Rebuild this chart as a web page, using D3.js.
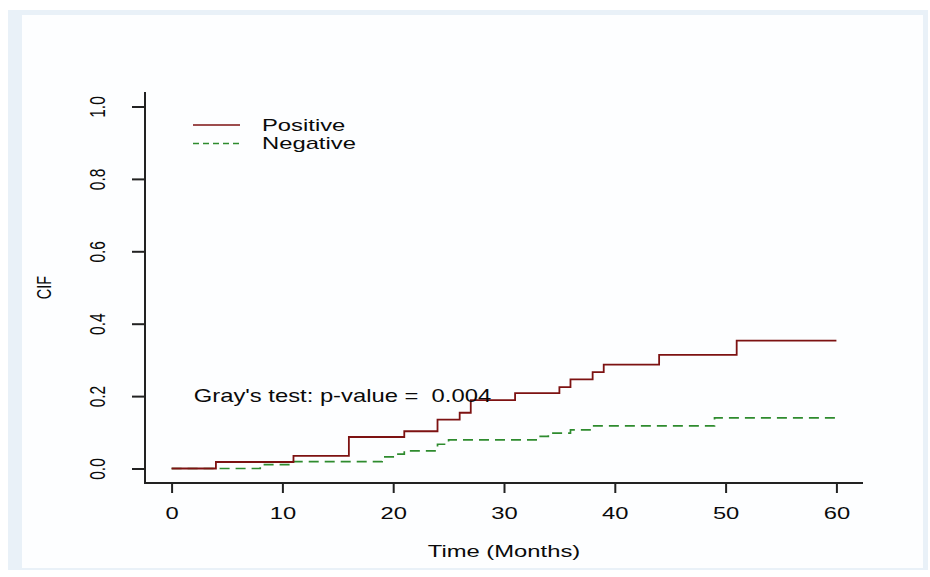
<!DOCTYPE html>
<html>
<head>
<meta charset="utf-8">
<script src="https://cdn.jsdelivr.net/npm/d3@7"></script>
<style>
  body { margin: 0; background: #fff; }
  text { font-family: "Liberation Sans", Arial, sans-serif; fill: #0a0a0a; }
</style>
</head>
<body>
<div id="cifChart"></div>
<script>
// step points (time in months, cumulative incidence)
const posTime = [0, 4, 11, 16, 21, 24, 26, 27, 31, 35, 36, 38, 39, 44, 51, 60];
const posCIF  = [0, 0.018, 0.035, 0.087, 0.103, 0.135, 0.154, 0.189, 0.208, 0.225, 0.246, 0.266, 0.287, 0.314, 0.353, 0.353];
const negTime = [0, 8, 11, 19, 20, 21, 24, 25, 33, 34, 36, 38, 49, 60];
const negCIF  = [0, 0.011, 0.019, 0.032, 0.040, 0.049, 0.067, 0.079, 0.089, 0.098, 0.107, 0.118, 0.140, 0.140];

const seriesNames = ["Positive", "Negative"];
const xTicks = [0, 10, 20, 30, 40, 50, 60];
const yTicks = [0, 0.2, 0.4, 0.6, 0.8, 1.0];
const xTitle = "Time (Months)";
const yTitle = "CIF";
const testLabel = "Gray's test: p-value =  0.004";

// set the dimensions of the page and the plot region
var width = 930, height = 577;
var plot = {left: 145, right: 863, top: 92, bottom: 483};
var sx = 1.40; // picture is stretched sideways, so is the text

var svg = d3.select("#cifChart")
    .append("svg")
        .attr("width", width)
        .attr("height", height);

// light blue frame round the picture
svg.append("rect")
    .attr("x", 8).attr("y", 10).attr("width", 920).attr("height", 560)
    .attr("fill", "#e9f1f8");
svg.append("rect")
    .attr("x", 22).attr("y", 15).attr("width", 901).attr("height", 553)
    .attr("fill", "#fdfeff");

// R style 4% padding on both axes
var x = d3.scaleLinear()
    .domain([-2.4, 62.4])
    .range([plot.left, plot.right]);
var y = d3.scaleLinear()
    .domain([-0.04, 1.04])
    .range([plot.bottom, plot.top]);

// L shaped box
svg.append("path")
    .attr("d", "M" + plot.left + "," + plot.top + "V" + plot.bottom + "H" + plot.right)
    .attr("fill", "none")
    .attr("stroke", "#222")
    .attr("stroke-width", 2);

// X axis
var gx = svg.append("g")
    .attr("transform", "translate(0," + plot.bottom + ")")
    .call(d3.axisBottom(x).tickValues(xTicks).tickSize(10).tickFormat(d3.format("d")));
gx.select(".domain").remove();
gx.selectAll("line").attr("stroke", "#222").attr("stroke-width", 2);
gx.selectAll("text")
    .attr("y", null).attr("dy", null)
    .attr("fill", null)
    .style("font-size", "16.5px")
    .attr("transform", "translate(0,35.5) scale(1.44,1)");

// Y axis, labels turned like in R
var gy = svg.append("g")
    .attr("transform", "translate(" + plot.left + ",0)")
    .call(d3.axisLeft(y).tickValues(yTicks).tickSize(13).tickFormat(d3.format(".1f")));
gy.select(".domain").remove();
gy.selectAll("line").attr("stroke", "#222").attr("stroke-width", 2);
gy.selectAll("text")
    .attr("x", null).attr("dy", null)
    .attr("fill", null)
    .attr("text-anchor", "middle")
    .style("font-size", "15.5px")
    .attr("transform", "translate(-40,0) scale(1.45,1) rotate(-90)");

// axis titles
svg.append("text")
    .text(xTitle)
    .attr("text-anchor", "middle")
    .style("font-size", "17px")
    .attr("transform", "translate(" + (plot.left + plot.right) / 2 + ",557) scale(" + sx + ",1)");
svg.append("text")
    .text(yTitle)
    .attr("text-anchor", "middle")
    .style("font-size", "14.5px")
    .attr("transform", "translate(51," + y(0.5) + ") scale(1.45,1) rotate(-90)");

// the two step curves
var line = d3.line()
    .x(function(d) { return x(d[0]) })
    .y(function(d) { return y(d[1]) })
    .curve(d3.curveStepAfter);

svg.append("path")
    .datum(d3.zip(negTime, negCIF))
    .attr("d", line)
    .attr("fill", "none")
    .attr("stroke", "#2e8b2e")
    .attr("stroke-width", 1.7)
    .attr("stroke-dasharray", "10,6");

svg.append("path")
    .datum(d3.zip(posTime, posCIF))
    .attr("d", line)
    .attr("fill", "none")
    .attr("stroke", "#7d1212")
    .attr("stroke-width", 1.8);

// test annotation
svg.append("text")
    .text(testLabel)
    .style("white-space", "pre")
    .style("font-size", "17.5px")
    .attr("dy", "0.35em")
    .attr("transform", "translate(" + x(2) + "," + y(0.2) + ") scale(1.36,1)");

// legend (no box)
var legend = svg.append("g").attr("transform", "translate(193,125)");
var rows = legend.selectAll("g")
    .data(seriesNames)
    .join("g")
        .attr("transform", function(d, i) { return "translate(0," + i * 18.5 + ")" });
rows.append("line")
    .attr("x1", 0).attr("x2", 47)
    .attr("stroke", function(d, i) { return i === 0 ? "#7d1212" : "#2e8b2e" })
    .attr("stroke-width", 1.7)
    .attr("stroke-dasharray", function(d, i) { return i === 0 ? null : "6,4" });
rows.append("text")
    .text(function(d) { return d })
    .style("font-size", "17px")
    .attr("dy", "0.35em")
    .attr("transform", "translate(69,0) scale(" + sx + ",1)");
</script>
</body>
</html>
